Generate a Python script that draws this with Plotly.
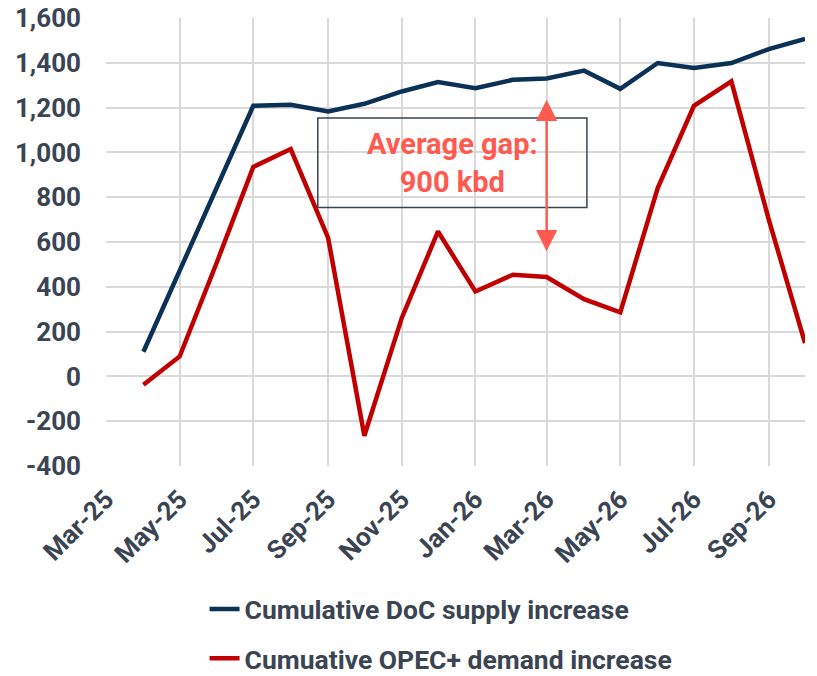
import plotly.graph_objects as go

months = ["2025-04-01", "2025-05-01", "2025-06-01", "2025-07-01", "2025-08-01", "2025-09-01",
          "2025-10-01", "2025-11-01", "2025-12-01", "2026-01-01", "2026-02-01", "2026-03-01",
          "2026-04-01", "2026-05-01", "2026-06-01", "2026-07-01", "2026-08-01", "2026-09-01",
          "2026-10-01"]
supply = [110, 475, 840, 1208, 1213, 1183, 1217, 1272, 1314, 1287, 1324, 1330, 1365, 1284,
          1399, 1377, 1399, 1461, 1507]
demand = [-37, 89, 512, 935, 1015, 618, -265, 261, 647, 379, 454, 444, 345, 286, 841, 1208,
          1317, 700, 149]
series_names = ["Cumulative DoC supply increase", "Cumuative OPEC+ demand increase"]
y_tickvals = [-400, -200, 0, 200, 400, 600, 800, 1000, 1200, 1400, 1600]
y_ticktext = ["-400", "-200", "0", "200", "400", "600", "800", "1,000", "1,200", "1,400", "1,600"]
gap_text = "Average gap:<br>900 kbd"
gap_x = "2026-03-01"
gap_top, gap_bottom = 1235, 552

TEXT = "#3A4452"
BLUE = "#0B3157"
RED = "#C00000"
CORAL = "#FF5A50"
GRID = "#D9D9D9"
FONT = dict(family="Roboto", size=26, color=TEXT, weight=700)

fig = go.Figure()
fig.add_trace(go.Scatter(x=months, y=supply, mode="lines", name=series_names[0],
                         legendgroup="a", line=dict(color=BLUE, width=4.5)))
fig.add_trace(go.Scatter(x=months, y=demand, mode="lines", name=series_names[1],
                         legendgroup="b", line=dict(color=RED, width=4.5)))

fig.add_shape(type="rect", xref="paper", yref="paper", x0=0.303, x1=0.688, y0=0.577, y1=0.777,
              line=dict(color=TEXT, width=1.5), fillcolor="rgba(0,0,0,0)")
fig.add_annotation(xref="paper", yref="paper", x=0.495, y=0.677, xanchor="center",
                   yanchor="middle", text=gap_text, showarrow=False,
                   font=dict(family="Roboto", size=29, color=CORAL, weight=700), align="center")
fig.add_annotation(x=gap_x, y=gap_top, ax=gap_x, ay=gap_bottom, xref="x", yref="y",
                   axref="x", ayref="y", text="", showarrow=True, arrowhead=2,
                   arrowside="end+start", arrowsize=1.7, arrowwidth=2.5, arrowcolor=CORAL)

fig.update_layout(
    width=817, height=676,
    margin=dict(l=106, r=12, t=18, b=210, autoexpand=False),
    paper_bgcolor="white", plot_bgcolor="white",
    font=FONT,
    showlegend=True,
    legend=dict(orientation="v", x=0.141, xanchor="left", y=-0.266, yanchor="top",
                font=dict(family="Roboto", size=26.5, color=TEXT, weight=700),
                tracegroupgap=12, bgcolor="rgba(0,0,0,0)"),
)
fig.update_xaxes(type="date", range=["2025-03-01", "2026-10-01"], tick0="2025-03-01", dtick="M2",
                 tickformat="%b-%y", tickangle=-45, showgrid=True, gridcolor=GRID, gridwidth=1.5,
                 showline=False, zeroline=False, ticks="", ticklabelstandoff=12, automargin=False,
                 tickfont=dict(family="Roboto", size=26, color=TEXT, weight=700))
fig.update_yaxes(range=[-400, 1600], tickvals=y_tickvals, ticktext=y_ticktext, showgrid=True,
                 gridcolor=GRID, gridwidth=1.5, zeroline=False, showline=False, ticks="",
                 ticklabelstandoff=24, automargin=False, ticklabeloverflow="allow",
                 tickfont=dict(family="Roboto", size=26, color=TEXT, weight=700))

fig.write_html("out.html", config={"displayModeBar": False},
               post_script="document.body.style.margin='0';document.body.style.overflow='hidden';")
